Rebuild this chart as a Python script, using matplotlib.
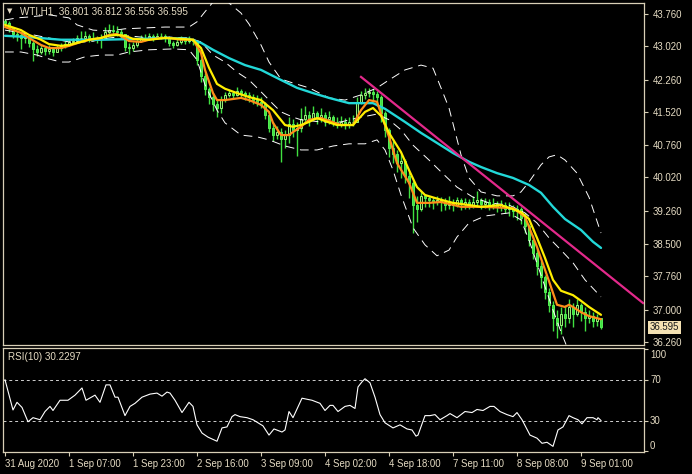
import matplotlib
matplotlib.use("Agg")
import matplotlib.pyplot as plt
import matplotlib.transforms as mtransforms

# ---------------- data ----------------
symbol_title = "WTI,H1  36.801 36.812 36.556 36.595"
rsi_title = "RSI(10) 30.2297"
last_price = 36.595

first_open = 43.60
closes = [
    43.55, 43.45, 43.30, 43.28, 43.20, 43.25, 43.10, 42.95, 42.90, 42.98,
    42.92, 42.95, 42.90, 42.98, 43.02, 43.08, 43.12, 43.15, 43.20, 43.22,
    43.25, 43.20, 43.22, 43.18, 43.22, 43.35, 43.40, 43.38, 43.35, 43.30,
    43.00, 42.98, 43.05, 43.15, 43.20, 43.22, 43.25, 43.22, 43.26, 43.25,
    43.20, 43.10, 43.05, 43.12, 43.18, 43.15, 43.18, 43.15, 42.70, 42.35,
    42.05, 41.85, 41.70, 41.60, 41.80, 41.90, 41.95, 41.90, 42.00, 41.95,
    41.90, 41.85, 41.80, 41.75, 41.70, 41.45, 41.15, 41.00, 41.05, 40.90,
    41.00, 41.25, 41.10, 41.15, 41.35, 41.45, 41.35, 41.50, 41.40, 41.45,
    41.35, 41.40, 41.30, 41.25, 41.30, 41.22, 41.30, 41.30, 41.75, 41.90,
    41.95, 41.98, 41.92, 41.85, 41.50, 41.10, 40.70, 40.55, 40.35, 40.40,
    40.05, 39.90, 39.40, 39.30, 39.60, 39.55, 39.50, 39.45, 39.50, 39.45,
    39.40, 39.45, 39.40, 39.50, 39.42, 39.45, 39.40, 39.45, 39.50, 39.42,
    39.45, 39.40, 39.42, 39.35, 39.40, 39.30, 39.35, 39.25, 39.30, 39.10,
    38.90, 38.60, 38.30, 38.00, 37.75, 37.40, 37.10, 36.80, 36.65, 36.90,
    36.80, 37.05, 36.90, 37.10, 36.95, 36.80, 36.85, 36.75, 36.801, 36.595,
]
highs = [
    43.65, 43.60, 43.45, 43.38, 43.32, 43.35, 43.28, 43.15, 43.05, 43.05,
    43.02, 43.05, 43.00, 43.05, 43.10, 43.15, 43.18, 43.22, 43.28, 43.38,
    43.36, 43.30, 43.35, 43.26, 43.30, 43.45, 43.52, 43.50, 43.48, 43.42,
    43.30, 43.10, 43.12, 43.22, 43.28, 43.30, 43.32, 43.30, 43.33, 43.32,
    43.30, 43.25, 43.15, 43.20, 43.25, 43.24, 43.25, 43.22, 43.15, 42.75,
    42.40, 42.10, 41.95, 41.80, 41.88, 41.98, 42.02, 42.00, 42.08, 42.05,
    42.00, 41.98, 41.92, 41.90, 41.85, 41.75, 41.50, 41.30, 41.20, 41.15,
    41.10, 41.40, 41.35, 41.30, 41.60, 41.65, 41.55, 41.65, 41.55, 41.60,
    41.52, 41.55, 41.45, 41.40, 41.42, 41.38, 41.40, 41.45, 41.85, 42.00,
    42.07, 42.07, 42.05, 42.00, 41.90, 41.55, 41.15, 40.85, 40.65, 40.55,
    40.45, 40.15, 39.95, 39.60, 39.70, 39.65, 39.60, 39.58, 39.60, 39.58,
    39.55, 39.60, 39.52, 39.58, 39.55, 39.55, 39.52, 39.60, 39.70, 39.55,
    39.55, 39.52, 39.55, 39.48, 39.50, 39.45, 39.45, 39.40, 39.40, 39.35,
    39.20, 38.95, 38.70, 38.40, 38.10, 37.80, 37.50, 37.20, 37.00, 37.05,
    37.10, 37.25, 37.15, 37.25, 37.15, 37.05, 37.00, 36.95, 36.90, 36.812,
]
lows = [
    43.45, 43.35, 43.22, 43.15, 42.95, 43.10, 43.00, 42.68, 42.80, 42.85,
    42.82, 42.85, 42.80, 42.88, 42.92, 42.98, 43.02, 43.08, 43.12, 43.15,
    43.15, 43.12, 43.15, 43.10, 42.98, 43.18, 43.30, 43.28, 43.25, 43.20,
    42.92, 42.85, 42.92, 43.00, 43.12, 43.15, 43.18, 43.15, 43.18, 43.18,
    43.12, 43.02, 42.98, 43.02, 43.08, 43.08, 43.10, 43.05, 42.60, 42.20,
    41.90, 41.70, 41.55, 41.40, 41.50, 41.75, 41.85, 41.82, 41.88, 41.85,
    41.80, 41.75, 41.70, 41.65, 41.60, 41.35, 41.05, 40.85, 40.90, 40.38,
    40.70, 40.80, 40.95, 40.52, 41.05, 41.30, 41.20, 41.35, 41.25, 41.30,
    41.20, 41.25, 41.20, 41.15, 41.18, 41.12, 41.15, 41.20, 41.30, 41.70,
    41.82, 41.85, 41.80, 41.65, 41.30, 40.95, 40.50, 40.35, 40.15, 40.00,
    39.90, 39.55, 38.75, 39.00, 39.25, 39.35, 39.35, 39.30, 39.38, 39.25,
    39.28, 39.30, 39.25, 39.35, 39.28, 39.30, 39.30, 39.32, 39.35, 39.30,
    39.32, 39.28, 39.30, 39.22, 39.25, 39.20, 39.15, 39.12, 39.05, 38.95,
    38.75, 38.45, 38.15, 37.80, 37.50, 37.25, 36.95, 36.50, 36.35, 36.45,
    36.60, 36.70, 36.60, 36.85, 36.75, 36.50, 36.70, 36.60, 36.62, 36.556,
]

# moving averages (bar index, price)
ma_fast_idx = [0, 4, 6, 9, 11, 14, 16, 19, 21, 24, 26, 28, 29, 31, 34, 36, 39, 41, 44, 47,
               49, 50, 52, 53, 55, 59, 61, 64, 66, 67, 69, 71, 72, 74, 76, 79, 84, 87, 89,
               91, 93, 96, 98, 101, 103, 106, 109, 114, 119, 127, 130, 131, 133, 136, 137,
               138, 140, 141, 142, 144, 146, 149]
ma_fast = [43.46, 43.33, 43.21, 43.05, 42.98, 42.98, 43.03, 43.12, 43.17, 43.21, 43.28,
           43.30, 43.26, 43.14, 43.12, 43.17, 43.21, 43.21, 43.17, 43.17,
           42.87, 42.48, 41.95, 41.79, 41.79, 41.84, 41.79, 41.68, 41.52, 41.27, 40.99,
           40.99, 41.06, 41.18, 41.34, 41.38, 41.22, 41.22, 41.56,
           41.79, 41.75, 40.95, 40.35, 39.90, 39.44, 39.44, 39.46, 39.35, 39.35, 39.32,
           39.12, 38.89, 38.43, 37.65, 37.38,
           37.11, 37.06, 37.11, 37.06, 36.94, 36.85, 36.78]

ma_slow_idx = [0, 4, 6, 9, 11, 14, 16, 19, 21, 24, 26, 28, 30, 32, 36, 40, 44, 47, 49, 51,
               53, 55, 58, 61, 64, 67, 70, 72, 74, 76, 78, 80, 83, 87, 90, 92, 94, 96, 99,
               101, 103, 105, 109, 112, 116, 119, 124, 129, 131, 133, 135, 137, 139, 142,
               144, 146, 149]
ma_slow = [43.51, 43.39, 43.28, 43.17, 43.07, 43.03, 43.05, 43.12, 43.17, 43.21, 43.26,
           43.28, 43.26, 43.19, 43.17, 43.21, 43.19, 43.17, 42.98, 42.53,
           42.16, 42.05, 41.95, 41.86, 41.79, 41.56, 41.22, 41.18, 41.22, 41.29, 41.38,
           41.31, 41.22, 41.22, 41.52, 41.61, 41.43, 41.04, 40.60,
           40.19, 39.80, 39.62, 39.51, 39.44, 39.39, 39.35, 39.39, 39.23, 39.07, 38.64,
           38.18, 37.68, 37.43, 37.33, 37.20, 37.06, 36.88]

ma_long_idx = [0, 6, 14, 24, 34, 41, 46, 49, 52, 56, 60, 64, 69, 73, 77, 81, 86, 92, 95,
               100, 104, 108, 112, 116, 119, 123, 127, 131, 134, 137, 140, 144, 147, 149]
ma_long = [43.26, 43.23, 43.17, 43.17, 43.19, 43.21, 43.19, 43.10, 42.94, 42.75, 42.59,
           42.48, 42.25, 42.07, 41.95, 41.84, 41.72, 41.72, 41.59, 41.29, 41.04, 40.81,
           40.58, 40.38, 40.26, 40.12, 40.01, 39.85, 39.67, 39.35, 39.07, 38.82, 38.55,
           38.41]

# Bollinger-type bands (bar index, price)
bb_up_idx = [0, 3, 6, 11, 16, 18, 22, 26, 30, 35, 40, 46, 48, 50, 52, 54, 56, 59, 61, 64,
             66, 69, 72, 76, 81, 85, 89, 93, 96, 100, 104, 107, 109, 111, 114, 116, 119,
             123, 127, 129, 131, 134, 136, 138, 140, 143, 146, 149]
bb_up = [43.62, 43.67, 43.69, 43.74, 43.67, 43.51, 43.39, 43.37, 43.42, 43.44, 43.46,
         43.46, 43.58, 43.81, 44.03, 44.19, 44.01, 43.78, 43.53, 43.05,
         42.66, 42.27, 42.18, 42.07, 41.84, 41.79, 41.91, 42.07, 42.25, 42.48, 42.59,
         42.52, 42.07, 41.61, 40.54, 40.01, 39.69,
         39.60, 39.60, 39.69, 39.92, 40.31, 40.49, 40.54, 40.42, 40.12, 39.57, 38.75]

bb_mid_idx = [0, 6, 11, 16, 21, 26, 31, 36, 41, 46, 49, 52, 55, 58, 61, 64, 67, 69, 72,
              74, 79, 84, 88, 93, 96, 99, 102, 106, 109, 113, 117, 121, 126, 130, 133,
              136, 139, 142, 145, 149]
bb_mid = [43.39, 43.30, 43.21, 43.12, 43.12, 43.21, 43.26, 43.21, 43.23, 43.21, 43.12,
          42.82, 42.66, 42.43, 42.25, 41.98, 41.70, 41.52, 41.40,
          41.34, 41.29, 41.29, 41.38, 41.47, 41.34, 41.11, 40.76, 40.42, 40.15, 39.80,
          39.57, 39.44, 39.39, 39.21, 38.98,
          38.64, 38.36, 38.07, 37.68, 37.29]

bb_lo_idx = [0, 4, 8, 11, 14, 16, 20, 24, 28, 31, 36, 42, 46, 48, 50, 53, 55, 59, 63, 66,
             70, 74, 78, 82, 86, 90, 93, 95, 97, 99, 102, 105, 108, 111, 113, 116, 120,
             126, 129, 131, 134, 137, 139, 141, 145, 149]
bb_lo = [42.89, 42.89, 42.82, 42.73, 42.66, 42.66, 42.78, 42.82, 42.82, 42.89, 42.94,
         42.96, 42.94, 42.71, 42.14, 41.56, 41.27, 40.99, 40.95, 40.88,
         40.74, 40.65, 40.65, 40.74, 40.79, 40.79, 40.88, 40.65, 40.19, 39.62, 38.87,
         38.48, 38.23, 38.36, 38.66, 38.98, 39.14,
         39.21, 39.05, 38.59, 37.79, 36.99, 36.49, 36.03, 35.85, 35.96]

# trend line drawn on the chart
trend_idx = [89, 159.5]
trend_val = [42.32, 37.15]

# RSI(10) (bar index, value)
rsi_idx = [0, 2, 3, 4.25, 5.75, 7, 8.75, 10, 11.25, 12, 13.75, 15.75, 17.5, 19.25, 20.25,
           22.5, 23.75, 25.25, 26.25, 27.5, 28.25, 30, 31.25, 32.5, 34.25, 36.25, 38,
           39.25, 40.5, 41.25, 42.5, 44.25, 46, 47, 48, 49.25, 50.75, 53, 54.25, 55.5,
           56.75, 57.5, 58.75, 60.5, 62, 64.5, 66, 67.25, 69.25, 70, 71, 72, 74.25, 75.5,
           76.75, 78.75, 80, 81.25, 82, 83.25, 85, 86.25, 87.5, 88.25, 89.25, 90, 91.25,
           92.5, 93.75, 95, 97, 98.75, 100.5, 101.75, 102.75, 103.25, 105, 106.25, 107.5,
           108.75, 110.5, 111.25, 113, 115, 116.75, 118, 119.5, 121.25, 122.25, 123.75,
           125.5, 127, 128, 129.25, 131.25, 133, 134.25, 135.5, 137, 138.25, 139.5, 141,
           142, 143.25, 144.25, 145.5, 147, 148, 148.25, 149]
rsi_val = [70, 40.5, 48, 43, 29, 33, 31, 39, 44, 40, 50, 50, 55, 62, 50,
           55, 48, 65, 65, 53, 53, 35, 44, 47, 53, 56, 57,
           54, 58, 57, 50, 38, 48, 44, 26, 18, 14, 10, 23, 24,
           34, 36, 34, 33, 31, 25, 16, 22, 19, 21, 39, 33, 52, 51,
           50, 47, 40, 45, 45, 39, 44, 45, 42, 63, 68, 71, 67,
           53, 36, 28, 23, 26, 22, 21, 15, 16, 35, 35, 36,
           31, 35, 37, 33, 39, 38, 41, 40, 44, 44, 39,
           36, 34, 38, 31, 16, 13, 8, 9, 5, 21, 24, 35,
           33, 31, 27, 33, 33, 31, 33, 30.23]
rsi_levels = [70, 30]

time_tick_idx = [0, 16, 32, 48, 64, 80, 96, 112, 128, 144]
time_labels = ["31 Aug 2020", "1 Sep 07:00", "1 Sep 23:00", "2 Sep 16:00", "3 Sep 09:00",
               "4 Sep 02:00", "4 Sep 18:00", "7 Sep 11:00", "8 Sep 08:00", "9 Sep 01:00"]
price_ticks = [43.760, 43.020, 42.260, 41.520, 40.760, 40.020, 39.260, 38.500, 37.760,
               37.000, 36.260]
rsi_ticks = [100, 70, 30, 0]

# ---------------- figure ----------------
W, H = 692, 474
FONT = "Liberation Sans"
TXT = "#e6dcc4"
FRAME = "#d8cfb6"

fig = plt.figure(figsize=(W / 100, H / 100), dpi=100, facecolor="black")
ax = fig.add_axes([3 / W, 1 - 345 / H, 641 / W, 342 / H])
ax2 = fig.add_axes([3 / W, 1 - 452 / H, 641 / W, 104 / H])

for a in (ax, ax2):
    a.set_facecolor("black")
    for s in a.spines.values():
        s.set_color(FRAME)
        s.set_linewidth(0.9)
    a.set_xlim(-0.5, 159.75)

# candles
idx = list(range(len(closes)))
opens = [first_open] + closes[:-1]
ax.vlines(idx, lows, highs, color="#40e040", lw=1.0, zorder=2)
up_i = [i for i in idx if closes[i] >= opens[i]]
dn_i = [i for i in idx if closes[i] < opens[i]]
ax.bar(up_i, [closes[i] - opens[i] for i in up_i], bottom=[opens[i] for i in up_i],
       width=0.7, color="#0b2a0b", edgecolor="#9af57a", linewidth=0.7, zorder=3)
ax.bar(dn_i, [opens[i] - closes[i] for i in dn_i], bottom=[closes[i] for i in dn_i],
       width=0.7, color="#40e040", edgecolor="#55f055", linewidth=0.7, zorder=3)

# bands
for bi, bv in ((bb_up_idx, bb_up), (bb_mid_idx, bb_mid), (bb_lo_idx, bb_lo)):
    ax.plot(bi, bv, color="white", lw=0.7, dashes=(9, 6), zorder=4)

# moving averages
ax.plot(ma_long_idx, ma_long, color="#22d8d8", lw=1.7, zorder=5, solid_capstyle="round")
ax.plot(ma_fast_idx, ma_fast, color="#ff8c1a", lw=1.6, zorder=6, solid_capstyle="round")
ax.plot(ma_slow_idx, ma_slow, color="#ffee00", lw=1.6, zorder=7, solid_capstyle="round")
ax.plot(trend_idx, trend_val, color="#e3298b", lw=1.6, zorder=8)

ax.set_ylim(36.19, 44.01)
ax.yaxis.tick_right()
ax.set_yticks(price_ticks)
ax.set_yticklabels([f"{p:.3f}" for p in price_ticks])
ax.tick_params(axis="y", colors=FRAME, labelcolor=TXT, length=3, width=0.8, pad=3,
               labelsize=6.9, labelfontfamily=FONT)
ax.set_xticks([])

# current price box
blend = mtransforms.blended_transform_factory(ax.transAxes, ax.transData)
ax.text(1 + 6 / 641, last_price, f"{last_price:.3f}", transform=blend, ha="left",
        va="center", fontsize=6.9, family=FONT, color="#1a1a1a", zorder=10,
        bbox=dict(boxstyle="square,pad=0.18", fc="#f4e1b2", ec="none"), clip_on=False)

# header
fig.text(7 / W, 1 - 11 / H, "\u25bc", color=TXT, fontsize=5, va="center", ha="left",
         family="DejaVu Sans")
fig.text(20 / W, 1 - 11 / H, symbol_title, color=TXT, fontsize=7.1, va="center",
         ha="left", family=FONT)

# RSI panel
ax2.plot(rsi_idx, rsi_val, color="white", lw=0.8, zorder=3)
for lv in rsi_levels:
    ax2.axhline(lv, color="#d0d0d0", lw=0.7, dashes=(3, 3), zorder=2)
ax2.set_ylim(-0.5, 101)
ax2.yaxis.tick_right()
ax2.set_yticks(rsi_ticks)
ax2.set_yticklabels([])
ax2.tick_params(axis="y", colors=FRAME, length=3, width=0.8)
blend2 = mtransforms.blended_transform_factory(ax2.transAxes, ax2.transData)
for v, ypos in zip(rsi_ticks, [94, 70, 30, 5.5]):
    ax2.text(1 + 6 / 641, ypos, str(v), transform=blend2, ha="left", va="center",
             fontsize=6.9, family=FONT, color=TXT, clip_on=False)
ax2.text(5 / 641, 1 - 9 / 104, rsi_title, transform=ax2.transAxes, ha="left",
         va="center", fontsize=7.1, family=FONT, color=TXT)

ax2.set_xticks(time_tick_idx)
ax2.set_xticklabels(time_labels, ha="left")
ax2.tick_params(axis="x", colors=FRAME, labelcolor=TXT, length=3, width=0.8, pad=2,
                labelsize=6.9, labelfontfamily=FONT)

fig.savefig("out.png", dpi=100, facecolor="black")
